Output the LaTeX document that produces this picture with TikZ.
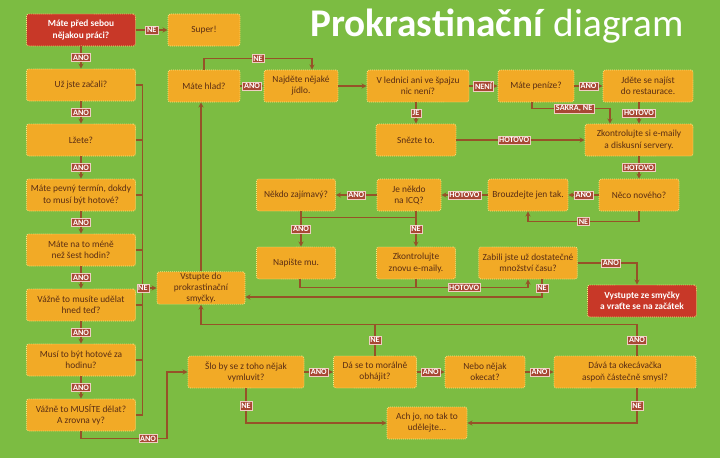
\documentclass[tikz,border=0pt]{standalone}
\usepackage{fontspec}
\setmainfont{Carlito}
\usepackage{tikz}
\usepackage{xcolor}
\usetikzlibrary{positioning}
\definecolor{bggreen}{RGB}{124,188,66}
\definecolor{boxfill}{RGB}{242,170,38}
\definecolor{boxdot}{RGB}{252,232,130}
\definecolor{boxtext}{RGB}{90,45,20}
\definecolor{stopred}{RGB}{200,56,40}
\definecolor{wire}{RGB}{150,82,40}
\definecolor{lblfill}{RGB}{168,72,52}
\definecolor{lblrim}{RGB}{240,205,195}
\tikzstyle{question} = [rectangle, rounded corners=2pt, minimum width=2.4cm, minimum height=0.96cm, text centered, align=center, draw=boxdot, densely dotted, line width=0.7pt, fill=boxfill, text=boxtext, font=\fontsize{8}{9.4}\selectfont]
\tikzstyle{leftq} = [question, minimum width=3.27cm]
\tikzstyle{stopbox} = [question, fill=stopred, text=white, font=\fontsize{8}{9.4}\selectfont\bfseries]
\tikzstyle{lbl} = [rectangle, solid, fill=lblfill, text=white, draw=lblrim, line width=0.3pt, inner sep=1.2pt, font=\fontsize{7}{7}\selectfont\bfseries]
\tikzstyle{arrow} = [line width=0.9pt, draw=wire, ->, >={stealth[scale=1.3]}]
\tikzstyle{line} = [line width=0.9pt, draw=wire, -]

\begin{document}
\begin{tikzpicture}[node distance=1.65cm]
        \fill [bggreen] (0,0) rectangle (21.6,-13.74);
        \useasboundingbox (0,0) rectangle (21.6,-13.74);
        \node (title) [anchor=base west, text=white, inner sep=0pt, font=\fontsize{33.5}{34}\selectfont] at (9.3,-1.1) {\textbf{Prokrastinační} diagram};

        \node (start) [stopbox, minimum width=3.27cm] at (2.43,-0.9) {Máte před sebou\\nějakou práci?};
        \node (begun) [leftq, below of=start] {Už jste začali?};
        \node (lie) [leftq, below of=begun] {Lžete?};
        \node (deadline) [leftq, below of=lie] {Máte pevný termín, dokdy\\to musí být hotové?};
        \node (sixhours) [leftq, below of=deadline] {Máte na to méně\\než šest hodin?};
        \node (now) [leftq, below of=sixhours] {Vážně to musíte udělat\\hned teď?};
        \node (hour) [leftq, below of=now] {Musí to být hotové za\\hodinu?};
        \node (must) [leftq, below of=hour] {Vážně to MUSÍTE dělat?\\A zrovna vy?};
        \node (super) [question, minimum width=2.16cm, right of=start, xshift=2.04cm] {Super!};
        \node (hungry) [question, minimum width=2.16cm, right of=begun, xshift=2.04cm, yshift=-0.03cm] {Máte hlad?};
        \node (food) [question, minimum width=2.22cm, right of=hungry, xshift=1.26cm] {Najděte nějaké\\jídlo.};
        \node (fridge) [question, minimum width=3.06cm, right of=food, xshift=1.86cm] {V lednici ani ve špajzu\\nic není?};
        \node (money) [question, minimum width=2.28cm, right of=fridge, xshift=1.89cm] {Máte peníze?};
        \node (restaurant) [question, minimum width=2.7cm, right of=money, xshift=1.71cm] {Jděte se najíst\\do restaurace.};
        \node (eat) [question, minimum width=2.4cm, below of=fridge, xshift=-0.06cm, yshift=0.03cm] {Snězte to.};
        \node (mail) [question, minimum width=3.24cm, below of=restaurant, xshift=-0.27cm, yshift=0.03cm] {Zkontrolujte si e-maily\\a diskusní servery.};
        \node (new) [question, minimum width=2.4cm, below of=mail] {Něco nového?};
        \node (browse) [question, minimum width=2.4cm, left of=new, xshift=-1.68cm] {Brouzdejte jen tak.};
        \node (icq) [question, minimum width=1.92cm, left of=browse, xshift=-1.92cm] {Je někdo\\na ICQ?};
        \node (interesting) [question, minimum width=2.37cm, left of=icq, xshift=-1.74cm] {Někdo zajímavý?};
        \node (write) [question, minimum width=2.37cm, below of=interesting, yshift=-0.39cm] {Napište mu.};
        \node (mail2) [question, minimum width=2.37cm, below of=icq, xshift=0.21cm, yshift=-0.39cm] {Zkontrolujte\\znovu e-maily.};
        \node (enough) [question, minimum width=2.94cm, below of=browse, yshift=-0.39cm] {Zabili jste už dostatečné\\množství času?};
        \node (quit) [stopbox, minimum width=3.27cm, below of=new, xshift=0.09cm, yshift=-1.53cm] {Vystupte ze smyčky\\a vraťte se na začátek};
        \node (loop) [question, minimum width=2.64cm, inner ysep=1pt, right of=sixhours, xshift=1.95cm, yshift=-1.14cm] {Vstupte do\\prokrastinační\\smyčky.};
        \node (talk) [question, minimum width=3.48cm, right of=hour, xshift=3.3cm, yshift=-0.36cm] {Šlo by se z toho nějak\\vymluvit?};
        \node (moral) [question, minimum width=2.49cm, right of=talk, xshift=2.22cm] {Dá se to morálně\\obhájit?};
        \node (okecat) [question, minimum width=2.4cm, right of=moral, xshift=1.65cm] {Nebo nějak\\okecat?};
        \node (sense) [question, minimum width=4.26cm, right of=okecat, xshift=2.55cm] {Dává ta okecávačka\\aspoň částečně smysl?};
        \node (achjo) [question, minimum width=2.4cm, below of=moral, xshift=1.56cm, yshift=0.12cm] {Ach jo, no tak to\\udělejte...};

        % left column
        \draw [arrow] (start) -- node[lbl] {ANO} (begun);
        \draw [arrow] (begun) -- node[lbl] {ANO} (lie);
        \draw [arrow] (lie) -- node[lbl] {ANO} (deadline);
        \draw [arrow] (deadline) -- node[lbl] {ANO} (sixhours);
        \draw [arrow] (sixhours) -- node[lbl] {ANO} (now);
        \draw [arrow] (now) -- node[lbl] {ANO} (hour);
        \draw [arrow] (hour) -- node[lbl] {ANO} (must);
        \draw [arrow] (start) -- node[lbl] {NE} (super);
        \draw [line] (begun.east) -- ++(0.21,0) coordinate (bus) |- (must.east);
        \draw [line] (lie.east) -- (lie.east -| bus);
        \draw [line] (deadline.east) -- (deadline.east -| bus);
        \draw [line] (sixhours.east) -- (sixhours.east -| bus);
        \draw [line] (now.east) -- (now.east -| bus);
        \draw [line] (hour.east) -- (hour.east -| bus);
        \draw [arrow] (loop.west -| bus) -- node[lbl, pos=0] {NE} (loop.west);
        \draw [arrow] (must.south) |- node[lbl, pos=0.89] {ANO} ++(2.58,-0.21) |- (talk.west);

        % top row
        \draw [arrow] (loop.north) -- (loop.north |- hungry.south);
        \draw [arrow] (hungry) -- node[lbl] {ANO} (food);
        \draw [arrow] (hungry.north) -- ++(0,0.33) -| node[lbl, pos=0.25] {NE} ([xshift=0.33cm]food.north);
        \draw [arrow] (food) -- (fridge);
        \draw [arrow] (fridge) -- node[lbl] {NENÍ} (money);
        \draw [arrow] (money) -- node[lbl] {ANO} (restaurant);
        \draw [arrow] (fridge.south -| eat) -- node[lbl] {JE} (eat);
        \draw [arrow] (eat) -- node[lbl, pos=0.45] {HOTOVO} (mail);
        \draw [arrow] ([xshift=-0.12cm]money.south) -- ++(0,-0.18) -| node[lbl, pos=0.27] {SAKRA, NE} ([xshift=-0.87cm]mail.north);
        \draw [arrow] (restaurant.south -| mail) -- node[lbl] {HOTOVO} (mail);

        % e-mail loop
        \draw [arrow] (mail) -- node[lbl] {HOTOVO} (new);
        \draw [arrow] (new) -- node[lbl] {ANO} (browse);
        \draw [arrow] (new.south) -- ++(0,-0.3) -| node[lbl, pos=0.25] {NE} (browse.south);
        \draw [arrow] (browse) -- node[lbl] {HOTOVO} (icq);
        \draw [arrow] (icq) -- node[lbl] {ANO} (interesting);
        \draw [arrow] ([xshift=0.15cm]interesting.south) -- node[lbl] {ANO} ([xshift=0.15cm]write.north);
        \draw [line] ([xshift=0.15cm]interesting.south) |- ([yshift=-0.18cm]icq.south -| mail2);
        \draw [arrow] (icq.south -| mail2) -- node[lbl] {NE} (mail2);
        \draw [arrow] ([xshift=0.12cm]write.south) -- ++(0,-0.24) -| node[lbl, pos=0.36] {HOTOVO} (enough.south);
        \draw [line] (mail2.south) -- ++(0,-0.24);
        \draw [arrow] ([xshift=0.42cm]enough.south) |- node[lbl, pos=0.25] {NE} ([yshift=-0.27cm]loop.east);
        \draw [arrow] (enough.east) -| node[lbl, pos=0.28] {ANO} ([xshift=-0.15cm]quit.north);

        % bottom row
        \draw [arrow] (talk) -- node[lbl] {ANO} (moral);
        \draw [arrow] (moral) -- node[lbl] {ANO} (okecat);
        \draw [arrow] (okecat) -- node[lbl] {ANO} (sense);
        \draw [arrow] ([xshift=0.36cm]sense.north) -- node[lbl] {ANO} ++(0,0.93) -| (loop.south);
        \draw [line] (moral.north) -- node[lbl] {NE} ++(0,0.93);
        \draw [arrow] (talk.south) |- node[lbl, pos=0.25] {NE} (achjo.west);
        \draw [arrow] ([xshift=0.36cm]sense.south) |- node[lbl, pos=0.25] {NE} (achjo.east);
    \end{tikzpicture}
\end{document}
